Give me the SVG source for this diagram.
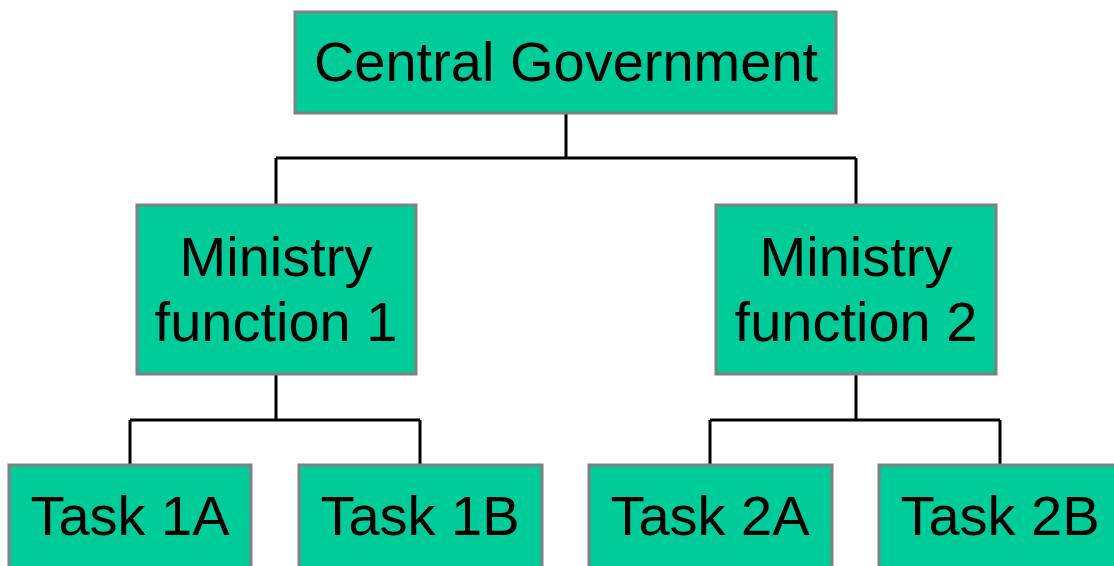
<svg xmlns="http://www.w3.org/2000/svg" width="1114" height="566" viewBox="0 0 1114 566">
<style>
.box{fill:#00CC99;stroke:#808080;stroke-width:3}
.lbl{font-family:"Liberation Sans",Arial,sans-serif;font-size:56px;fill:#000;text-anchor:middle}
.conn{fill:none;stroke:#000;stroke-width:3}
</style>
<rect width="1114" height="566" fill="#fff"/>
<g id="connectors">
<path class="conn" d="M566,113 V158 M276,158 H856 M276,158 V205 M856,158 V205"/>
<path class="conn" d="M276,374 V420 M130,420 H420 M130,420 V465 M420,420 V465"/>
<path class="conn" d="M856,374 V420 M710,420 H1000 M710,420 V465 M1000,420 V465"/>
</g>
<g id="central"><rect class="box" x="295" y="12" width="541" height="101"/><text class="lbl" x="566" y="81">Central Government</text></g>
<g id="ministry1"><rect class="box" x="137" y="205" width="279" height="169"/><text class="lbl" x="276" y="276">Ministry</text><text class="lbl" x="276" y="341">function 1</text></g>
<g id="ministry2"><rect class="box" x="716" y="205" width="280" height="169"/><text class="lbl" x="856" y="276">Ministry</text><text class="lbl" x="856" y="341">function 2</text></g>
<g id="task1a"><rect class="box" x="9" y="465" width="242" height="110"/><text class="lbl" x="130" y="535">Task 1A</text></g>
<g id="task1b"><rect class="box" x="299" y="465" width="243" height="110"/><text class="lbl" x="420" y="535">Task 1B</text></g>
<g id="task2a"><rect class="box" x="589" y="465" width="243" height="110"/><text class="lbl" x="710" y="535">Task 2A</text></g>
<g id="task2b"><rect class="box" x="879" y="465" width="243" height="110"/><text class="lbl" x="1000" y="535">Task 2B</text></g>
</svg>
